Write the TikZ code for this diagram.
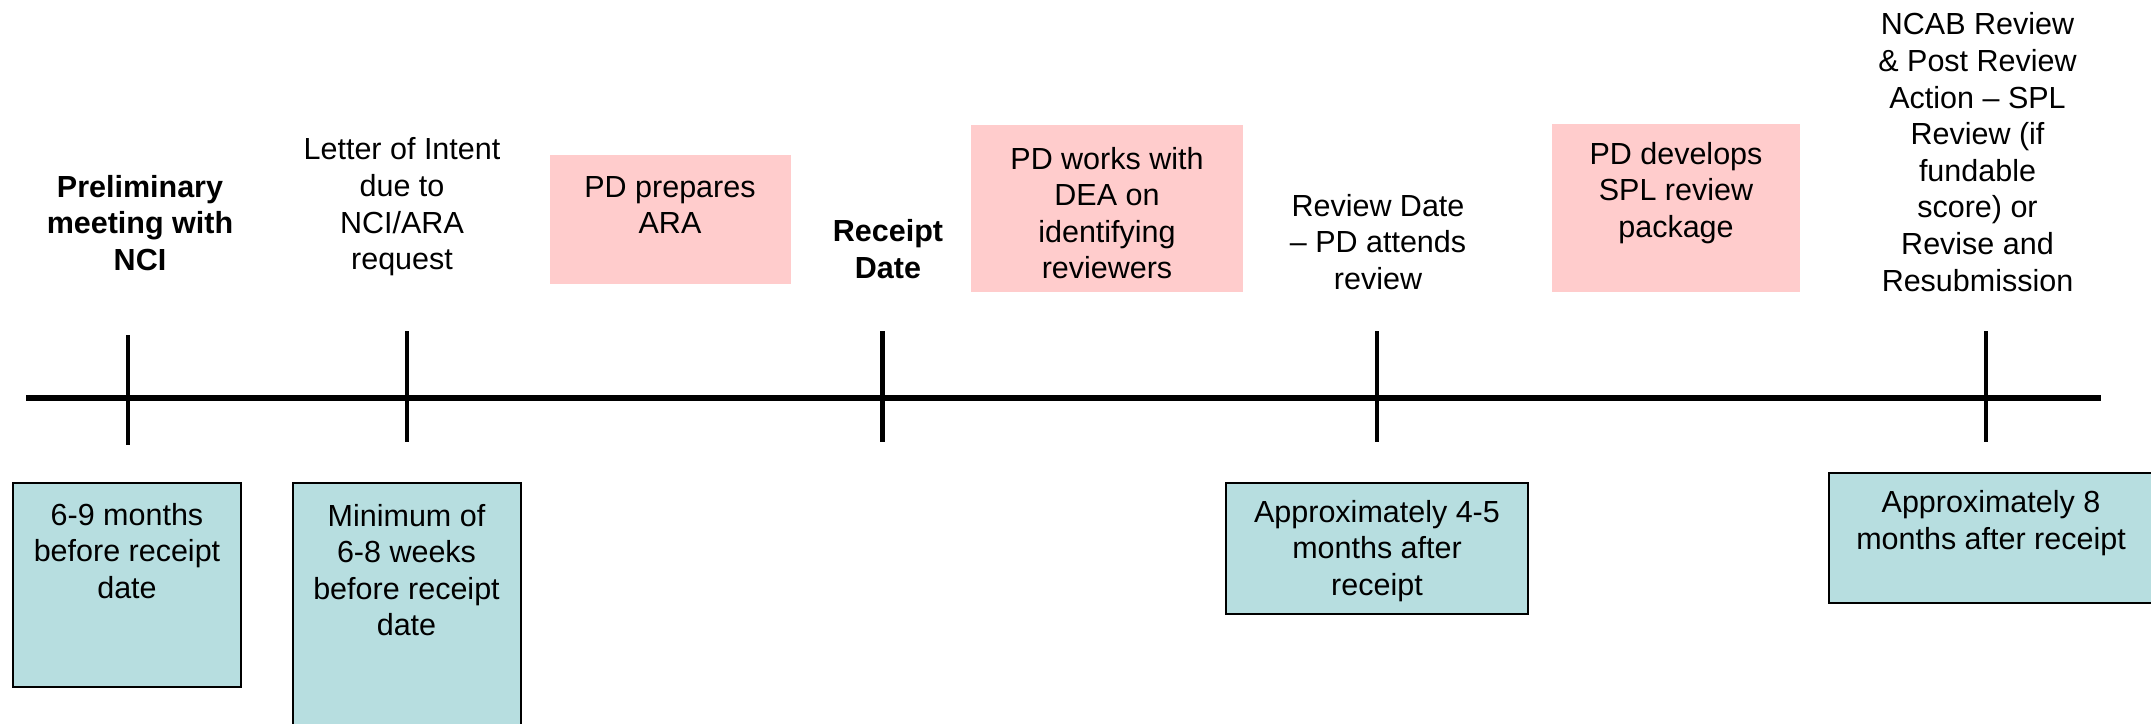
\documentclass[tikz,border=0pt]{standalone}
\usepackage{fontspec}
\setmainfont{Liberation Sans}
\definecolor{pinkbox}{RGB}{255,204,204}
\definecolor{bluebox}{RGB}{183,222,224}
\tikzset{
  lbl/.style={inner sep=0pt, align=center, font=\fontsize{30.5}{36.6}\selectfont},
  blbl/.style={lbl, font=\fontsize{30.5}{36.6}\selectfont\bfseries},
  pinkrect/.style={draw=none, fill=pinkbox, inner sep=0pt},
  bluerect/.style={draw=black, line width=2pt, fill=bluebox, inner sep=0pt},
  axisline/.style={line width=5.5pt},
  tickline/.style={line width=4.5pt}
}
\begin{document}
\begin{tikzpicture}[x=1pt, y=-1pt]
\useasboundingbox (0,0) rectangle (2151,723);
\clip (0,0) rectangle (2151,723);
\fill[white] (0,0) rectangle (2151,723);

% timeline
\coordinate (axL) at (26,398);
\coordinate (axR) at (2101,398);
\draw[axisline] (axL) -- (axR);
\coordinate (t1a) at (128,335); \coordinate (t1b) at (128,445);
\coordinate (t2a) at (407,331); \coordinate (t2b) at (407,442);
\coordinate (t3a) at (882.5,331); \coordinate (t3b) at (882.5,442);
\coordinate (t4a) at (1377,331); \coordinate (t4b) at (1377,442);
\coordinate (t5a) at (1986,331); \coordinate (t5b) at (1986,442);
\draw[tickline] (t1a) -- (t1b);
\draw[tickline] (t2a) -- (t2b);
\draw[tickline] (t3a) -- (t3b);
\draw[tickline] (t4a) -- (t4b);
\draw[tickline] (t5a) -- (t5b);

% pink boxes
\node[pinkrect, minimum width=241pt, minimum height=129pt] (p1) at (670.5,219.5) {};
\node[pinkrect, minimum width=272pt, minimum height=167pt] (p2) at (1107,208.5) {};
\node[pinkrect, minimum width=248pt, minimum height=168pt] (p3) at (1676,208) {};
\node[lbl] (p1t) at (670,205) {PD prepares\\ARA};
\node[lbl] (p2t) at (1107,213) {PD works with\\DEA on\\identifying\\reviewers};
\node[lbl] (p3t) at (1676,193) {PD develops\\SPL review\\package};

% blue boxes
\node[bluerect, minimum width=228.5pt, minimum height=204pt] (b1) at (127,585) {};
\node[bluerect, minimum width=228.5pt, minimum height=257pt] (b2) at (406.75,611.5) {};
\node[bluerect, minimum width=302pt, minimum height=131pt] (b3) at (1377,548.5) {};
\node[bluerect, minimum width=326pt, minimum height=130pt] (b4) at (1992,538) {};
\node[lbl] (b1t) at (127,551) {6-9 months\\before receipt\\date};
\node[lbl] (b2t) at (406.5,570) {Minimum of\\6-8 weeks\\before receipt\\date};
\node[lbl] (b3t) at (1377,551) {Approximately 4-5\\months after\\receipt};
\node[lbl] (b4t) at (1991,523) {Approximately 8\\months after receipt};

% labels above timeline
\node[blbl] (l1) at (140,223) {Preliminary\\meeting with\\NCI};
\node[lbl] (l2) at (402,207) {Letter of Intent\\due to\\NCI/ARA\\request};
\node[blbl] (l3) at (888,249) {Receipt\\Date};
\node[lbl] (l4) at (1378,242) {Review Date\\– PD attends\\review};
\node[lbl] (l5) at (1977.5,152) {NCAB Review\\\& Post Review\\Action – SPL\\Review (if\\fundable\\score) or\\Revise and\\Resubmission};
\end{tikzpicture}
\end{document}
